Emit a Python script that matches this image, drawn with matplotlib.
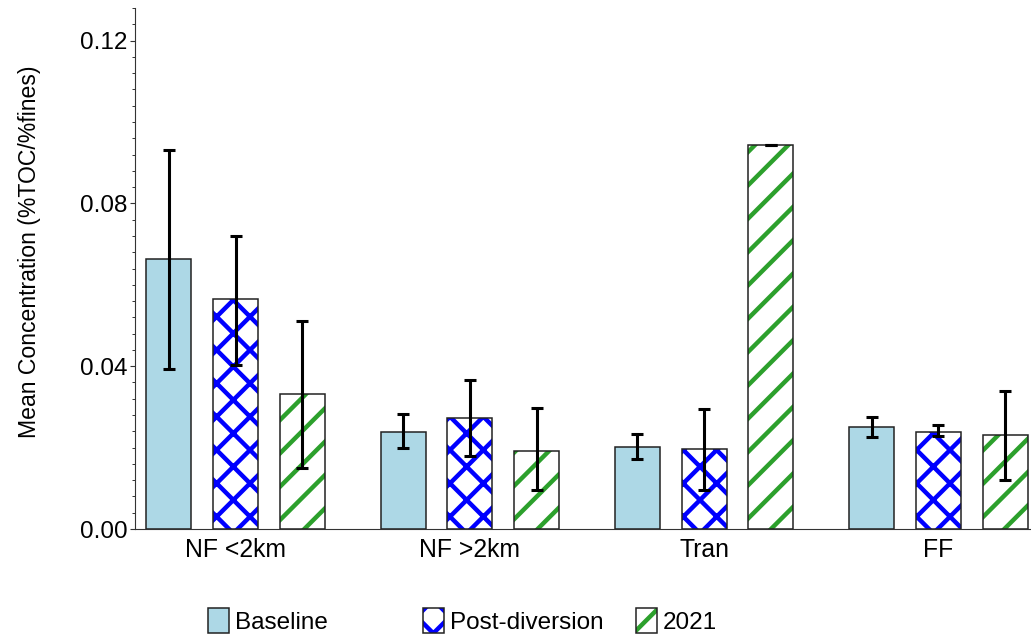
import numpy as np
import matplotlib
matplotlib.use('Agg')
import matplotlib.pyplot as plt
from matplotlib.patches import Patch
from matplotlib.ticker import MultipleLocator, FormatStrFormatter

plt.rcParams['font.family'] = ['Liberation Sans', 'DejaVu Sans']
plt.rcParams['hatch.linewidth'] = 1.6

# данные
sites = ['NF <2km', 'NF >2km', 'Tran', 'FF']
baseline = [0.0664, 0.0239, 0.0202, 0.0251]
baseline_lo = [0.0393, 0.0199, 0.0172, 0.0226]
baseline_hi = [0.0930, 0.0283, 0.0234, 0.0275]
post = [0.0566, 0.0273, 0.0197, 0.0239]
post_lo = [0.0403, 0.0180, 0.0096, 0.0229]
post_hi = [0.0720, 0.0366, 0.0295, 0.0256]
y2021 = [0.0332, 0.0192, 0.0944, 0.0231]
y2021_lo = [0.0150, 0.0096, 0.0944, 0.0120]
y2021_hi = [0.0511, 0.0298, 0.0944, 0.0339]

# dpi 200 -> шаг штриховки как на оригинале
fig = plt.figure(figsize=(5.155, 3.18), dpi=200)
ax = fig.add_axes([0.1309, 0.1682, 0.8691, 0.8192])

x = np.arange(len(sites))
w = 0.192
off = 0.285
err_kw = dict(fmt='none', ecolor='black', elinewidth=1.1, capsize=2.3, capthick=1.1, zorder=5)
edge = '#222222'

def yerr(v, lo, hi):
    return [np.array(v) - np.array(lo), np.array(hi) - np.array(v)]

# Baseline
ax.bar(x - off, baseline, w, color='lightblue', edgecolor=edge, linewidth=0.55)
ax.errorbar(x - off, baseline, yerr=yerr(baseline, baseline_lo, baseline_hi), **err_kw)

# Post-diversion
ax.bar(x, post, w, color='white', edgecolor='blue', hatch='xx', linewidth=0)
ax.bar(x, post, w, color='none', edgecolor=edge, linewidth=0.55)
ax.errorbar(x, post, yerr=yerr(post, post_lo, post_hi), **err_kw)

# 2021
ax.bar(x + off, y2021, w, color='white', edgecolor='#2ca02c', hatch='//', linewidth=0)
ax.bar(x + off, y2021, w, color='none', edgecolor=edge, linewidth=0.55)
ax.errorbar(x + off, y2021, yerr=yerr(y2021, y2021_lo, y2021_hi), **err_kw)

ax.set_xlim(-0.43, 3.395)
ax.set_ylim(0, 0.128)
ax.yaxis.set_major_locator(MultipleLocator(0.04))
ax.yaxis.set_minor_locator(MultipleLocator(0.004))
ax.yaxis.set_major_formatter(FormatStrFormatter('%.2f'))
ax.set_xticks(x)
ax.set_xticklabels(sites)

for s in ['top', 'right']:
    ax.spines[s].set_visible(False)
for s in ['left', 'bottom']:
    ax.spines[s].set_linewidth(0.4)
    ax.spines[s].set_color('#333333')

ax.tick_params(axis='y', which='major', length=1.8, width=0.4, labelsize=8.75, pad=0.8, color='#333333')
ax.tick_params(axis='y', which='minor', length=1.1, width=0.35, color='#333333')
ax.tick_params(axis='x', length=0, labelsize=8.9, pad=3.2)

ax.set_ylabel('Mean Concentration (%TOC/%fines)', fontsize=8.3)
ax.yaxis.set_label_coords(-0.105, 0.532)

# легенда: три отдельных элемента, как на оригинале
h_base = Patch(facecolor='lightblue', edgecolor=edge, linewidth=0.55)
h_post = (Patch(facecolor='white', edgecolor='blue', hatch='xx', linewidth=0),
          Patch(facecolor='none', edgecolor=edge, linewidth=0.55))
h_2021 = (Patch(facecolor='white', edgecolor='#2ca02c', hatch='//', linewidth=0),
          Patch(facecolor='none', edgecolor=edge, linewidth=0.55))

for h, lab, xpos in [(h_base, 'Baseline', 208 / 1031),
                     (h_post, 'Post-diversion', 423 / 1031),
                     (h_2021, '2021', 636 / 1031)]:
    fig.legend([h], [lab], loc='center left', bbox_to_anchor=(xpos, 1 - 621 / 636),
               frameon=False, fontsize=8.75, borderpad=0, borderaxespad=0,
               handlelength=0.86, handleheight=1.23, handletextpad=0.25)

fig.savefig('out.png', dpi=200)
